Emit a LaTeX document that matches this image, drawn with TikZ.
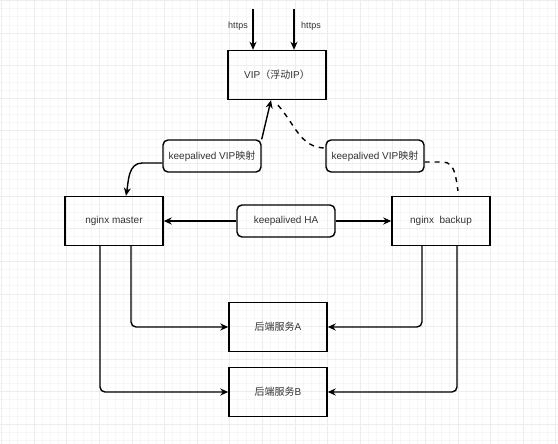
\documentclass[tikz,border=0pt]{standalone}
\usepackage{fontspec}
\setmainfont{Liberation Sans}
\newfontfamily\cjk{Noto Sans CJK SC}
\usepackage{xcolor}
\usepackage{tikz}
\usetikzlibrary{arrows.meta}

\tikzset{
    minorgrid/.style={draw=black!3, line width=0.8pt},
    majorgrid/.style={draw=black!7, line width=0.8pt},
    plainbox/.style={draw, line width=1.4pt, minimum width=98pt, minimum height=49pt, text=black!80, font=\fontsize{10}{12}\selectfont},
    roundbox/.style={draw, line width=1.4pt, rounded corners=5pt, minimum width=98pt, minimum height=32pt, text=black!80, font=\fontsize{10}{12}\selectfont},
    arr/.style={line width=1.4pt, -{Stealth[length=8pt,width=7pt,inset=2.5pt]}},
    dashline/.style={line width=1.4pt, dash pattern=on 5pt off 5pt}
}

\begin{document}
\begin{tikzpicture}[x=1pt, y=-1pt]
        \useasboundingbox[fill=white] (0,0) rectangle (558,444);
        \foreach \k in {0,...,68} \draw[minorgrid] ({1.5+\k*8.15},0) -- ++(0,444);
        \foreach \k in {0,...,54} \draw[minorgrid] (0,{0.5+\k*8.15}) -- ++(558,0);
        \foreach \k in {0,...,17} \draw[majorgrid] ({1.5+\k*32.6},0) -- ++(0,444);
        \foreach \k in {0,...,13} \draw[majorgrid] (0,{0.5+\k*32.6}) -- ++(558,0);

        \node[plainbox] (vip) at (277,75) {VIP{\cjk（浮动}IP{\cjk）}};

        \coordinate (in1) at (253,9);
        \coordinate (in2) at (294,9);
        \node[text=black!80, font=\fontsize{9}{11}\selectfont] (https1) at (238,26) {https};
        \node[text=black!80, font=\fontsize{9}{11}\selectfont] (https2) at (311,26) {https};

        \node[roundbox] (kvl) at (212,156) {keepalived VIP{\cjk 映射}};
        \node[roundbox] (kvr) at (375,156) {keepalived VIP{\cjk 映射}};

        \node[plainbox] (master) at (114,221) {nginx master};
        \node[roundbox] (ha)     at (286,221) {keepalived HA};
        \node[plainbox] (backup) at (441,221) {nginx\ \ backup};

        \node[plainbox] (svca) at (278,327) {{\cjk 后端服务}A};
        \node[plainbox] (svcb) at (278,392) {{\cjk 后端服务}B};

        \draw[arr] (in1) -- (in1 |- vip.north);
        \draw[arr] (in2) -- (in2 |- vip.north);

        \draw[arr] (kvl.north east) -- ([xshift=-6pt]vip.south);
        \draw[arr] ([yshift=-7pt]kvl.west) -- ++(-20,0) to[out=180,in=80] ([xshift=12pt]master.north);

        \draw[dashline] ([xshift=1pt,yshift=-5pt]vip.south) to[out=-48,in=180] ([yshift=8pt]kvr.west);
        \draw[dashline] ([yshift=-6pt]kvr.east) -- ++(18,0) to[out=0,in=100] ([xshift=17pt,yshift=5pt]backup.north);

        \draw[arr] (ha) -- (master);
        \draw[arr] (ha) -- (backup);

        \draw[arr, rounded corners=5pt] ([xshift=17pt]master.south) |- (svca.west);
        \draw[arr, rounded corners=5pt] ([xshift=-14pt]master.south) |- (svcb.west);
        \draw[arr, rounded corners=5pt] ([xshift=-19pt]backup.south) |- (svca.east);
        \draw[arr, rounded corners=5pt] ([xshift=16pt]backup.south) |- (svcb.east);
    \end{tikzpicture}
\end{document}
